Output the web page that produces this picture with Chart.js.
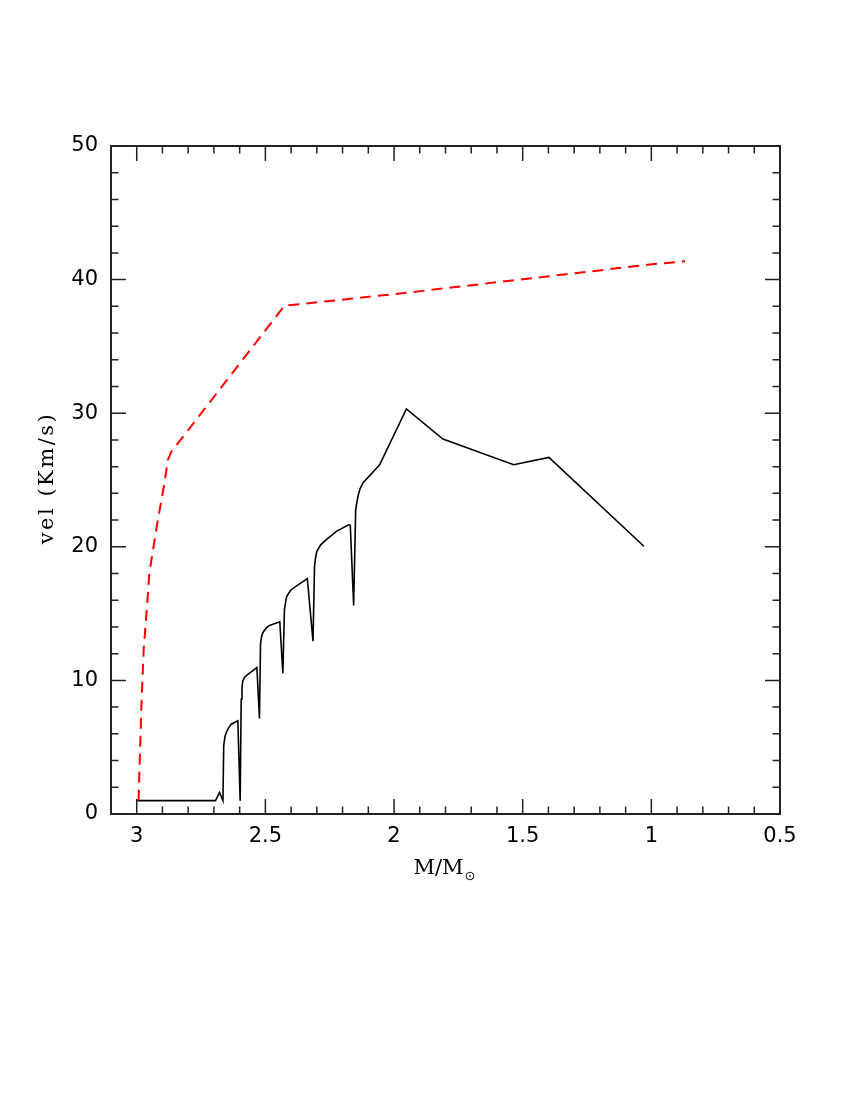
<!DOCTYPE html>
<html>
<head>
<meta charset="utf-8">
<script src="https://cdn.jsdelivr.net/npm/chart.js@4/dist/chart.umd.min.js"></script>
<style>
  body { margin: 0; background: #fff; }
  canvas { display: block; }
</style>
</head>
<body>
<canvas id="canvas-vel" width="850" height="1100" style="width:850px;height:1100px"></canvas>
<script>
// values (x = M/Msun, y = vel in Km/s)
var blackMass = [3.0, 2.694, 2.678, 2.665,
  2.662, 2.657, 2.652, 2.643, 2.633, 2.607, 2.598,
  2.594, 2.591, 2.588, 2.580, 2.568, 2.550, 2.533, 2.523,
  2.519, 2.515, 2.510, 2.498, 2.484, 2.444, 2.432,
  2.426, 2.421, 2.417, 2.402, 2.380, 2.337, 2.315,
  2.309, 2.305, 2.300, 2.285, 2.263, 2.224, 2.175, 2.170, 2.157,
  2.149, 2.140, 2.132, 2.121, 2.056, 1.952, 1.810, 1.535, 1.398, 1.029];
var blackVel = [1.0, 1.0, 1.62, 1.0,
  5.1, 5.8, 6.1, 6.45, 6.72, 6.97, 1.0,
  8.59, 9.4, 9.96, 10.25, 10.46, 10.72, 10.96, 7.15,
  12.7, 13.25, 13.57, 13.9, 14.11, 14.39, 10.53,
  15.3, 15.9, 16.3, 16.75, 17.05, 17.62, 12.94,
  18.54, 19.2, 19.66, 20.15, 20.54, 21.16, 21.66, 21.6, 15.6,
  22.8, 23.8, 24.35, 24.77, 26.14, 30.32, 28.06, 26.14, 26.69, 20.04];

var redMass = [2.993, 2.981, 2.973, 2.960, 2.951, 2.918, 2.892, 2.879, 2.866,
  2.426, 1.978, 1.340, 0.998, 0.869];
var redVel = [1.0, 8.6, 12.3, 15.56, 18.05, 22.0, 24.8, 26.5, 27.1,
  38.04, 38.96, 40.38, 41.15, 41.37];

var xTicks = [3, 2.5, 2, 1.5, 1, 0.5];
var yTicks = [0, 10, 20, 30, 40, 50];

function toPoints(xs, ys) {
  return xs.map(function (x, i) { return { x: x, y: ys[i] }; });
}

// inside ticks on all four sides, frame and axis titles
var frameTicks = {
  id: 'frameTicks',
  afterDatasetsDraw: function (chart) {
    var ctx = chart.ctx, a = chart.chartArea;
    var x = chart.scales.x, y = chart.scales.y;
    ctx.save();
    ctx.strokeStyle = '#222';
    ctx.lineWidth = 1.5;
    ctx.beginPath();
    for (var i = 5; i <= 31; i++) {
      var px = x.getPixelForValue(i / 10);
      var len = (i % 5 === 0) ? 15 : 7.5;
      ctx.moveTo(px, a.bottom); ctx.lineTo(px, a.bottom - len);
      ctx.moveTo(px, a.top); ctx.lineTo(px, a.top + len);
    }
    for (var j = 0; j <= 50; j += 2) {
      var py = y.getPixelForValue(j);
      var l = (j % 10 === 0) ? 15 : 7.5;
      ctx.moveTo(a.left, py); ctx.lineTo(a.left + l, py);
      ctx.moveTo(a.right, py); ctx.lineTo(a.right - l, py);
    }
    ctx.stroke();
    ctx.lineWidth = 2;
    ctx.strokeRect(a.left, a.top, a.right - a.left, a.bottom - a.top);

    ctx.fillStyle = '#000';
    // y title
    ctx.save();
    ctx.translate(48, (a.top + a.bottom) / 2 - 2);
    ctx.rotate(-Math.PI / 2);
    ctx.font = '21px "DejaVu Serif"';
    ctx.letterSpacing = '2.5px';
    ctx.textAlign = 'center';
    ctx.textBaseline = 'middle';
    ctx.fillText('vel (Km/s)', 0, 0);
    ctx.restore();
    // x title with subscript sun symbol
    ctx.font = '21px "DejaVu Serif"';
    ctx.textAlign = 'left';
    ctx.textBaseline = 'alphabetic';
    var w = ctx.measureText('M/M').width;
    var cx = (a.left + a.right) / 2 - 7;
    ctx.fillText('M/M', cx - w / 2, 874);
    ctx.font = '13px "DejaVu Sans"';
    ctx.fillText('\u2299', cx + w / 2 + 1, 880);
    ctx.restore();
  }
};

var ctx = document.getElementById('canvas-vel').getContext('2d');
var config = {
  type: 'scatter',
  data: {
    datasets: [
      {
        data: toPoints(redMass, redVel),
        showLine: true,
        borderColor: '#ff0000',
        borderWidth: 2,
        borderDash: [11, 7],
        pointRadius: 0,
        tension: 0
      },
      {
        data: toPoints(blackMass, blackVel),
        showLine: true,
        borderColor: '#000000',
        borderWidth: 1.6,
        pointRadius: 0,
        tension: 0
      }
    ]
  },
  options: {
    responsive: false,
    animation: false,
    layout: { padding: { left: 0, top: 146, right: 70, bottom: 206 } },
    plugins: { legend: { display: false }, tooltip: { enabled: false } },
    scales: {
      x: {
        type: 'linear',
        min: 0.5,
        max: 3.1,
        reverse: true,
        grid: { display: false, drawTicks: false },
        border: { display: false },
        afterFit: function (scale) { scale.height = 80; },
        afterBuildTicks: function (scale) {
          scale.ticks = xTicks.map(function (v) { return { value: v }; });
        },
        ticks: {
          padding: 10,
          color: '#000',
          font: { family: '"DejaVu Sans"', size: 21 },
          callback: function (v) { return String(v); }
        }
      },
      y: {
        type: 'linear',
        min: 0,
        max: 50,
        grid: { display: false, drawTicks: false },
        border: { display: false },
        afterFit: function (scale) { scale.width = 111; },
        afterBuildTicks: function (scale) {
          scale.ticks = yTicks.map(function (v) { return { value: v }; });
        },
        ticks: {
          padding: 13,
          color: '#000',
          font: { family: '"DejaVu Sans"', size: 21 },
          callback: function (v) { return String(v); }
        }
      }
    }
  },
  plugins: [frameTicks]
};
var chart = new Chart(ctx, config);
</script>
</body>
</html>
